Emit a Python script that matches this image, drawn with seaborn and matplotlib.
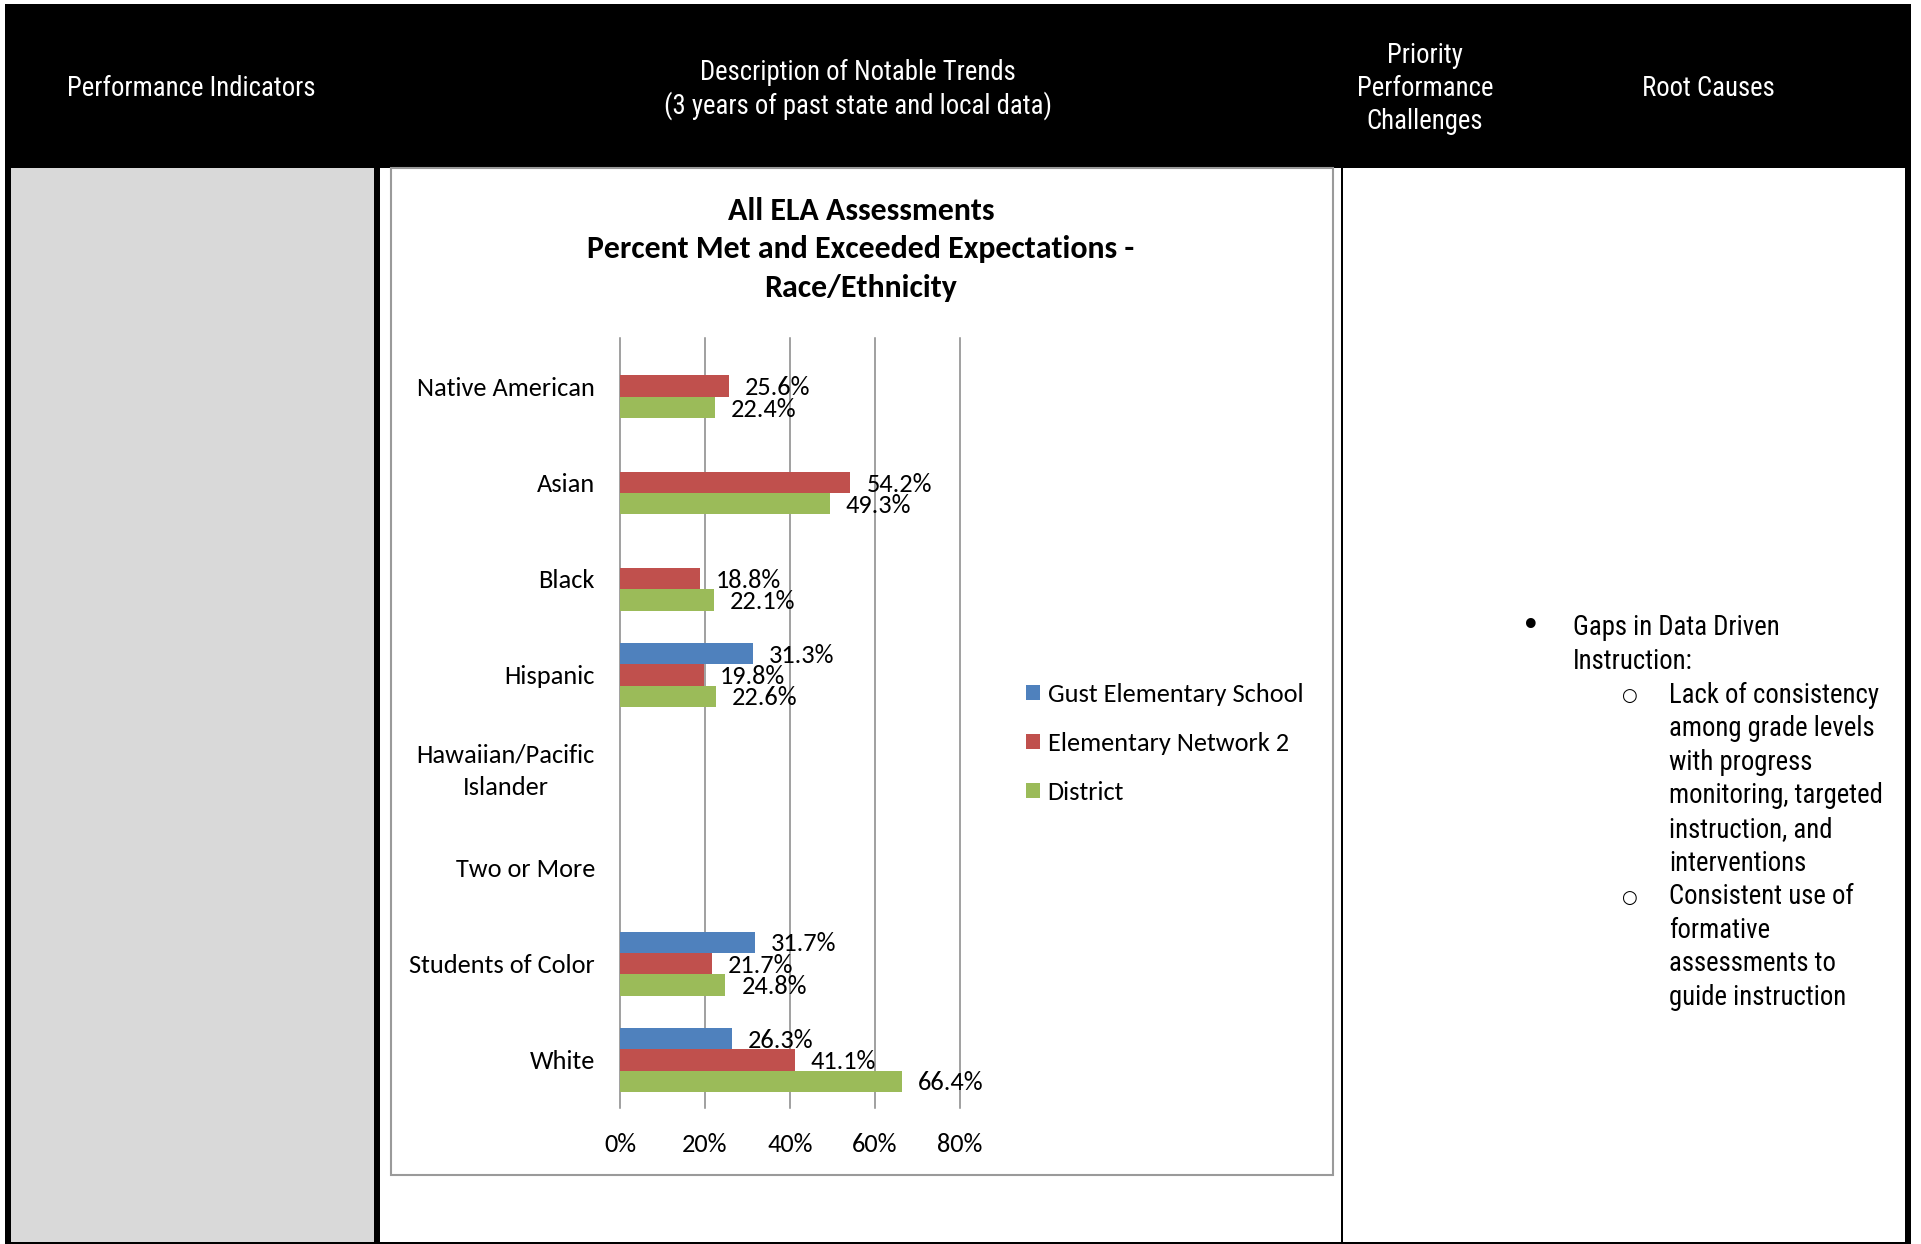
import numpy as np
import pandas as pd
import seaborn as sns
import matplotlib
matplotlib.use("Agg")
import matplotlib.pyplot as plt
from matplotlib.patches import Rectangle, Patch
from matplotlib import font_manager

# ---- chart data -------------------------------------------------------------
categories = ["Native American", "Asian", "Black", "Hispanic",
              "Hawaiian/Pacific\nIslander", "Two or More",
              "Students of Color", "White"]
gust_school = [np.nan, np.nan, np.nan, 31.3, np.nan, np.nan, 31.7, 26.3]
network_2 = [25.6, 54.2, 18.8, 19.8, np.nan, np.nan, 21.7, 41.1]
district = [22.4, 49.3, 22.1, 22.6, np.nan, np.nan, 24.8, 66.4]
series_names = ["Gust Elementary School", "Elementary Network 2", "District"]
series_colors = ["#4F81BD", "#C0504D", "#9BBB59"]
x_ticks = [0, 20, 40, 60, 80]
x_tick_labels = ["0%", "20%", "40%", "60%", "80%"]

chart_title = ["All ELA Assessments",
               "Percent Met and Exceeded Expectations -",
               "Race/Ethnicity"]

root_cause_main = ["Gaps in Data Driven", "Instruction:"]
root_cause_subs = [["Lack of consistency", "among grade levels", "with progress",
                    "monitoring, targeted", "instruction, and", "interventions"],
                   ["Consistent use of", "formative", "assessments to",
                    "guide instruction"]]

# ---- fonts ------------------------------------------------------------------
installed = {f.name for f in font_manager.fontManager.ttflist}
narrow_font = next((n for n in ["Liberation Sans Narrow", "Arial Narrow",
                                "Roboto Condensed"] if n in installed),
                   "Liberation Sans")
narrow_size = 19.3 if narrow_font != "Liberation Sans" else 16.5
chart_font = next((n for n in ["Carlito", "Lato", "Open Sans"] if n in installed),
                  "DejaVu Sans")
chart_size = 19 if chart_font == "Carlito" else 17
title_size = chart_size * 1.21

# ---- page geometry (pixel helpers) -----------------------------------------
W, H = 1921, 1244
fig = plt.figure(figsize=(W / 100, H / 100), dpi=100)
fig.patch.set_facecolor("white")


def fx(x):
    return x / W


def fy(y):
    return 1 - y / H


def rect(x0, y0, x1, y1, z=-3, **kw):
    fig.add_artist(Rectangle((fx(x0), fy(y1)), (x1 - x0) / W, (y1 - y0) / H,
                             transform=fig.transFigure, zorder=z, **kw))


# table frame
rect(5, 4, 1911, 168, fc="black", ec="none")
rect(5, 168, 380, 1244, fc="black", ec="none")
rect(11, 168, 374, 1242, z=-2, fc="#D9D9D9", ec="none")
rect(5, 1242, 1911, 1244, fc="black", ec="none")
rect(1341, 168, 1343, 1244, fc="black", ec="none")
rect(1905, 4, 1911, 1244, fc="black", ec="none")
# chart area border
rect(391, 168, 1332.5, 1175, z=-1, fc="white", ec="#9A9A9A", lw=1.5)


def page_text(x, y, s, **kw):
    fig.text(fx(x), fy(y), s, **kw)


# header row
hdr = dict(color="white", ha="center", va="center", family=narrow_font,
           fontsize=narrow_size)
page_text(191, 88.5, "Performance Indicators", **hdr)
page_text(858, 72.5, "Description of Notable Trends", **hdr)
page_text(858, 105.5, "(3 years of past state and local data)", **hdr)
page_text(1425, 55.5, "Priority", **hdr)
page_text(1425, 88.5, "Performance", **hdr)
page_text(1425, 121.5, "Challenges", **hdr)
page_text(1708, 88.5, "Root Causes", **hdr)

# root causes column
body = dict(color="black", ha="left", va="center", family=narrow_font,
            fontsize=narrow_size)
page_text(1531, 626, "\u2022", color="black", ha="center", va="center",
          family="DejaVu Sans", fontsize=24)
for i, line in enumerate(root_cause_main):
    page_text(1573, 628 + 33.6 * i, line, **body)
y_line = 695
for block in root_cause_subs:
    page_text(1629, y_line + 1, "\u25CB", color="black", ha="center",
              va="center", family="DejaVu Sans", fontsize=13)
    for line in block:
        page_text(1669, y_line, line, **body)
        y_line += 33.6

# chart title
for i, line in enumerate(chart_title):
    page_text(861, 210.5 + 38.6 * i, line, color="black", ha="center",
              va="center", family=chart_font, fontweight="bold",
              fontsize=title_size)

# ---- bar chart ----------------------------------------------------------------
records = []
for name, values in zip(series_names, [gust_school, network_2, district]):
    for cat, v in zip(categories, values):
        records.append({"Group": cat, "Series": name, "Percent": v})
df = pd.DataFrame(records).dropna()

ax = fig.add_axes([fx(620), fy(1108), 340 / W, 770 / H])
ax.set_facecolor("none")
sns.barplot(data=df, x="Percent", y="Group", hue="Series", order=categories,
            hue_order=series_names, palette=series_colors, orient="h",
            width=0.667, errorbar=None, legend=False, linewidth=0,
            saturation=1, ax=ax)

ax.set_xlim(0, 80)
ax.set_ylim(len(categories) - 0.5, -0.5)
ax.set_xticks(x_ticks)
ax.set_xticklabels(x_tick_labels)
ax.set_xlabel("")
ax.set_ylabel("")
for s in ax.spines.values():
    s.set_visible(False)
ax.set_axisbelow(True)
ax.xaxis.grid(True, color="#868686", linewidth=1.1)
for gl in ax.get_xgridlines():
    gl.set_clip_on(False)
ax.tick_params(axis="both", length=0)
ax.tick_params(axis="y", pad=18)
ax.tick_params(axis="x", pad=18)
for lab in ax.get_yticklabels():
    lab.set_family(chart_font)
    lab.set_fontsize(chart_size)
    lab.set_multialignment("center")
    lab.set_linespacing(1.5)
    if "\n" in lab.get_text():
        lab.set_verticalalignment("center")
for lab in ax.get_xticklabels():
    lab.set_family(chart_font)
    lab.set_fontsize(chart_size)

for cont in ax.containers:
    for t in ax.bar_label(cont, fmt="{:.1f}%", padding=11.5, family=chart_font,
                          fontsize=chart_size, color="black"):
        t.xyann = (11.5, -1.2)

handles = [Patch(facecolor=c, edgecolor="none", label=n)
           for n, c in zip(series_names, series_colors)]
fig.legend(handles=handles, loc="upper left",
           bbox_to_anchor=(fx(1026), fy(683)), frameon=False,
           prop={"family": chart_font, "size": chart_size},
           handlelength=0.52, handleheight=0.52, handletextpad=0.3,
           labelspacing=0.98, borderpad=0, borderaxespad=0)

fig.savefig("out.png", dpi=100, facecolor="white")
